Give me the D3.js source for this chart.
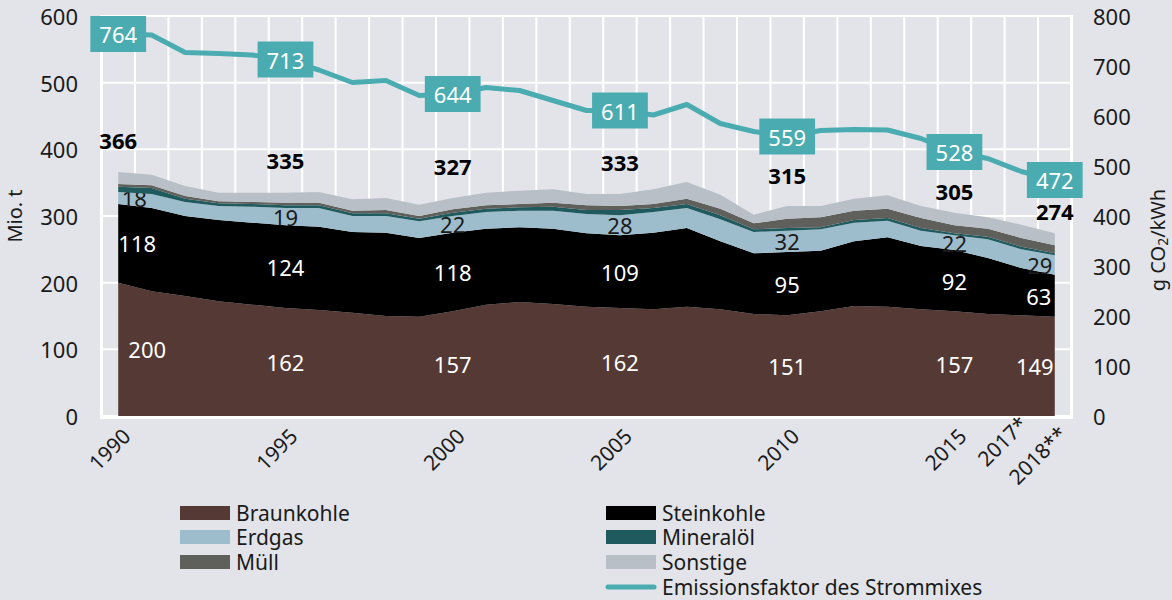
<!DOCTYPE html>
<html><head><meta charset="utf-8">
<script src="https://cdn.jsdelivr.net/npm/d3@7"></script>
<style>
body{margin:0;background:#e2e4e9;}
svg{display:block;font-family:"Noto Sans",sans-serif;}
</style>
</head><body><svg id="c" width="1172" height="600"></svg>
<script>
// ---------- DATA ----------
const years = [1990,1991,1992,1993,1994,1995,1996,1997,1998,1999,2000,2001,2002,2003,2004,2005,2006,2007,2008,2009,2010,2011,2012,2013,2014,2015,2016,2017,2018];
const braunkohle = [200,187,180,172,167,162,159,155,150,149,157,167,171,168,164,162,160,164,160,153,151,157,165,164,160,157,153,151,149];
const steinkohle = [118,125,120,122,123,124,125,121,125,118,118,114,112,113,110,109,115,118,102,91,95,91,97,104,95,92,84,71,63];
const erdgas     = [18,21,21,21,24,26,28,24,25,25,25,25,25,27,29,30,31,30,33,32,32,32,28,25,23,22,28,28,29];
const mineraloel = [8,9,5,4,4,4,4,4,4,4,5,5,5,6,6,8,6,6,6,4,4,3,4,4,4,3,4,4,3];
const muell      = [4,4,4,3,3,4,4,4,5,4,5,5,5,6,7,6,6,8,10,9,14,15,14,14,15,12,12,13,12];
const sonstige   = [18,16,15,13,14,15,16,17,18,17,17,19,20,20,17,18,22,25,21,13,19,17,18,20,18,19,17,20,18];
const emission   = [764,762,727,725,722,713,692,667,671,641,644,657,651,631,611,611,602,623,585,569,559,571,573,572,555,528,515,489,472];

const labelYears     = [1990,1995,2000,2005,2010,2015,2018];
const braunLabels    = [200,162,157,162,151,157,149];
const steinLabels    = [118,124,118,109,95,92,63];
const erdgasLabels   = [18,19,22,28,32,22,29];
const totalLabels    = [366,335,327,333,315,305,274];
const emissionLabels = [764,713,644,611,559,528,472];

const tickYears  = [1990,1995,2000,2005,2010,2015,2017,2018];
const tickLabels = ["1990","1995","2000","2005","2010","2015","2017*","2018**"];
const leftTicks  = [0,100,200,300,400,500,600];
const rightTicks = [0,100,200,300,400,500,600,700,800];

const seriesNames = ["Braunkohle","Steinkohle","Erdgas","Mineralöl","Müll","Sonstige"];
const lineName = "Emissionsfaktor des Strommixes";

// ---------- STYLE ----------
const colors = {"Braunkohle":"#553935","Steinkohle":"#000000","Erdgas":"#9dbdcc","Mineralöl":"#1f5b5e","Müll":"#5f605b","Sonstige":"#b8bfc6"};
const lineColor = "#4aacb0";
const textColor = "#1a1a1a";
const FS = 22;

const svg = d3.select("#c");
const W = 1172, H = 600;
svg.append("rect").attr("width",W).attr("height",H).attr("fill","#e2e4e9");

const x = d3.scaleBand().domain(years).range([101.5, 1071.5]);
const cx = d => x(d) + x.bandwidth()/2;
const y = d3.scaleLinear().domain([0,600]).range([416,16]);
const y2 = d3.scaleLinear().domain([0,800]).range([416,16]);

// grid
const g = svg.append("g");
g.selectAll("line.h").data(leftTicks).join("line")
  .attr("x1",101.5).attr("x2",1071.5).attr("y1",d=>y(d)).attr("y2",d=>y(d))
  .attr("stroke","#fff").attr("stroke-width",2);
g.selectAll("line.v").data(years.slice(1)).join("line")
  .attr("x1",d=>x(d)).attr("x2",d=>x(d)).attr("y1",y(600)).attr("y2",y(0))
  .attr("stroke","#fff").attr("stroke-width",2);

// stack
const rows = years.map((yr,i)=>({year:yr,"Braunkohle":braunkohle[i],"Steinkohle":steinkohle[i],"Erdgas":erdgas[i],"Mineralöl":mineraloel[i],"Müll":muell[i],"Sonstige":sonstige[i]}));
const stack = d3.stack().keys(seriesNames)(rows);
const area = d3.area().x(d=>cx(d.data.year)).y0(d=>y(d[0])).y1(d=>y(d[1]));

const idx = yr => years.indexOf(yr);
const labelDx = {
  "Braunkohle":[29,0,0,0,0,0,-20],
  "Steinkohle":[19,0,0,0,0,0,-16],
  "Erdgas":[16,0,0,0,0,0,-15]
};
const layerLabels = {"Braunkohle":braunLabels,"Steinkohle":steinLabels,"Erdgas":erdgasLabels};
const labelColor = {"Braunkohle":"#ffffff","Steinkohle":"#ffffff","Erdgas":"#1a1a1a"};

stack.forEach(layer=>{
  svg.append("path").datum(layer).attr("d",area).attr("fill",colors[layer.key]);
  if (layerLabels[layer.key]) {
    svg.append("g").selectAll("text").data(labelYears).join("text")
      .attr("x",(d,i)=>cx(d)+labelDx[layer.key][i])
      .attr("y",d=>{const p=layer[idx(d)]; return y((p[0]+p[1])/2);})
      .attr("dominant-baseline","central").attr("text-anchor","middle")
      .attr("font-size",FS).attr("fill",labelColor[layer.key])
      .text((d,i)=>layerLabels[layer.key][i]);
  }
});

// frame
svg.append("line").attr("x1",101.5).attr("x2",101.5).attr("y1",y(600)-1).attr("y2",418.5).attr("stroke","#fff").attr("stroke-width",3);
svg.append("line").attr("x1",1071.5).attr("x2",1071.5).attr("y1",y(600)-1).attr("y2",418.5).attr("stroke","#fff").attr("stroke-width",3);
svg.append("line").attr("x1",100).attr("x2",1073).attr("y1",417.5).attr("y2",417.5).attr("stroke","#fff").attr("stroke-width",3);

// totals
const totalDy = [-32,-33,-32,-32,-31,-22,-22];
const topLayer = stack[stack.length-1];
svg.append("g").selectAll("text").data(labelYears).join("text")
  .attr("x",d=>cx(d)).attr("y",(d,i)=>y(topLayer[idx(d)][1])+totalDy[i])
  .attr("dominant-baseline","central").attr("text-anchor","middle")
  .attr("font-size",FS).attr("font-weight","bold").attr("fill","#000")
  .text((d,i)=>totalLabels[i]);

// emission line
const line = d3.line().x((d,i)=>cx(years[i])).y(d=>y2(d));
svg.append("path").datum(emission).attr("d",line).attr("fill","none")
  .attr("stroke",lineColor).attr("stroke-width",5).attr("stroke-linejoin","round");

const boxes = svg.append("g").selectAll("g").data(labelYears).join("g")
  .attr("transform",(d,i)=>`translate(${cx(d)},${y2(emission[idx(d)])})`);
boxes.append("rect");
boxes.append("text").attr("text-anchor","middle").attr("dominant-baseline","central")
  .attr("font-size",FS).attr("fill","#fff").text((d,i)=>emissionLabels[i]);
boxes.each(function(){
  const t = d3.select(this).select("text").node();
  const w = t.getComputedTextLength()+18;
  d3.select(this).select("rect").attr("x",-w/2).attr("y",-18).attr("width",w).attr("height",36).attr("fill",lineColor);
});

// axes
const ax = svg.append("g").attr("font-size",FS).attr("fill",textColor);
ax.selectAll("text.l").data(leftTicks).join("text")
  .attr("x",78).attr("y",d=>y(d)).attr("text-anchor","end").attr("dominant-baseline","central").text(d=>d);
svg.append("g").attr("font-size",FS).attr("fill",textColor).selectAll("text").data(rightTicks).join("text")
  .attr("x",1093).attr("y",d=>y2(d)).attr("text-anchor","start").attr("dominant-baseline","central").text(d=>d);

svg.append("text").attr("transform","translate(14,216) rotate(-90)").attr("text-anchor","middle")
  .attr("dominant-baseline","central").attr("font-size",20).attr("fill",textColor).text("Mio. t");
const rt = svg.append("text").attr("transform","translate(1157,240) rotate(-90)").attr("text-anchor","middle")
  .attr("dominant-baseline","central").attr("font-size",20).attr("fill",textColor);
rt.append("tspan").text("g CO");
rt.append("tspan").attr("font-size",14).attr("dy",5).text("2");
rt.append("tspan").attr("dy",-5).text("/kWh");

// x tick labels
const tickDx = [8,8,8,8,8,8,2,8];
const tickDy = [432,432,432,432,432,432,420,430];
svg.append("g").selectAll("text").data(tickYears).join("text")
  .attr("transform",(d,i)=>`translate(${cx(d)+tickDx[i]},${tickDy[i]}) rotate(-45)`)
  .attr("text-anchor","end").attr("dominant-baseline","central")
  .attr("font-size",21).attr("fill",textColor).text((d,i)=>tickLabels[i]);

// legend
const LFS = 21;
const legendItems = [
  {name:"Braunkohle",x:180,y:513},{name:"Steinkohle",x:606,y:513},
  {name:"Erdgas",x:180,y:537},{name:"Mineralöl",x:606,y:537},
  {name:"Müll",x:180,y:562},{name:"Sonstige",x:606,y:562}
];
const lg = svg.append("g");
legendItems.forEach(it=>{
  lg.append("rect").attr("x",it.x).attr("y",it.y-7).attr("width",50).attr("height",14).attr("fill",colors[it.name]);
  lg.append("text").attr("x",it.x+56).attr("y",it.y).attr("dominant-baseline","central")
    .attr("font-size",LFS).attr("fill",textColor).text(it.name);
});
lg.append("line").attr("x1",608).attr("x2",654).attr("y1",587).attr("y2",587)
  .attr("stroke",lineColor).attr("stroke-width",5).attr("stroke-linecap","round");
lg.append("text").attr("x",662).attr("y",587).attr("dominant-baseline","central")
  .attr("font-size",LFS).attr("fill",textColor).text(lineName);
</script></body></html>
